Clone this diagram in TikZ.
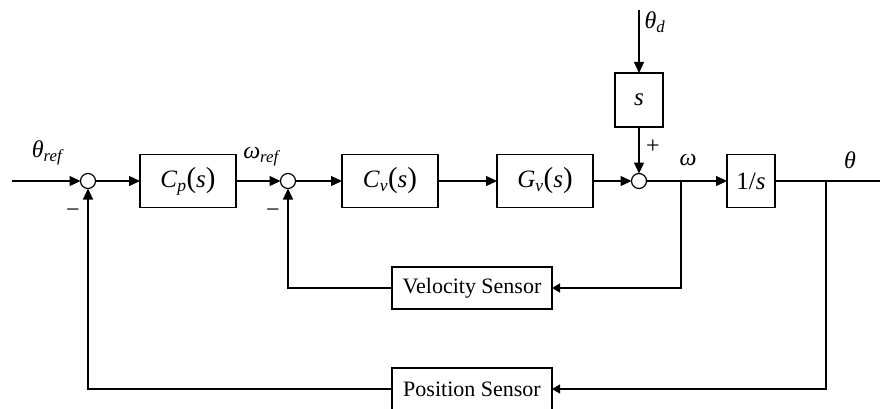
\documentclass[tikz,border=0pt]{standalone}
\usepackage{fontspec}
\setmainfont{Liberation Serif}
\usetikzlibrary{positioning,arrows.meta}
\newcommand{\fs}[1]{{\fontsize{29}{29}\selectfont(}\textit{#1}{\fontsize{29}{29}\selectfont)}}

\begin{document}
\begin{tikzpicture}[x=1pt, y=1pt,
  line width=1.2pt, outer sep=0pt,
  caixa/.style={draw, minimum height=53pt, minimum width=96pt, inner sep=0pt, font=\fontsize{25}{29}\selectfont},
  bloco/.style={caixa, minimum width=48pt},
  sensor/.style={draw, minimum height=42pt, minimum width=160pt, inner sep=0pt, font=\fontsize{22}{26}\selectfont},
  soma/.style={draw, circle, fill=white, inner sep=0pt, minimum size=15pt},
  rotulo/.style={inner sep=0pt, font=\fontsize{24}{28}\selectfont},
  seta/.style={-{Triangle[length=11pt, width=10pt]}},
  setap/.style={-{Triangle[length=8pt, width=9pt]}}]
\useasboundingbox (0,0) rectangle (880,408);
\node[soma] (s1) at (88,227) {};
\node[caixa, right=44.5pt of s1] (cp) {\textit{C}\textsubscript{\textit{p}}\fs{s}};
\node[soma, right=44.5pt of cp] (s2) {};
\node[caixa, right=46.5pt of s2] (cv) {\textit{C}\textsubscript{\textit{v}}\fs{s}};
\node[caixa, right=59pt of cv] (gv) {\textit{G}\textsubscript{\textit{v}}\fs{s}};
\node[soma, right=38.5pt of gv] (s3) {};
\node[bloco, minimum height=54pt, above=46.5pt of s3] (sb) {\textit{s}};
\node[bloco, right=80.5pt of s3] (int) {1/\textit{s}};
\node[sensor] (vel) at (472,120) {Velocity Sensor};
\node[sensor] (pos) at (472,19) {Position Sensor};
\coordinate (ent) at (12,227);
\coordinate (sai) at (880,227);
\coordinate (td) at (639,398);
\coordinate (bw) at (681,227);
\coordinate (bt) at (826,227);
% rotulos
\node[rotulo] at (48,255) {\textit{θ}\textsubscript{\textit{ref}}};
\node[rotulo] at (262,251) {\textit{ω}\textsubscript{\textit{ref}}};
\node[rotulo] at (655,386) {\textit{θ}\textsubscript{\textit{d}}};
\node[rotulo] at (653,261) {+};
\node[rotulo] at (688,248) {\textit{ω}};
\node[rotulo] at (850,248) {\textit{θ}};
\node[rotulo] at (73,195) {−};
\node[rotulo] at (273,195) {−};
% ligacoes
\draw[seta] (ent) -- (s1);
\draw[seta] (s1) -- (cp);
\draw[seta] (cp) -- (s2);
\draw[seta] (s2) -- (cv);
\draw[seta] (cv) -- (gv);
\draw[seta] (gv) -- (s3);
\draw[seta] (td) -- (sb);
\draw[seta] (sb) -- (s3);
\draw[seta] (s3) -- (int);
\draw (int) -- (sai);
\draw[setap] (bw) |- (vel);
\draw[seta] (vel) -| (s2);
\draw[setap] (bt) |- (pos);
\draw[seta] (pos) -| (s1);
\end{tikzpicture}
\end{document}
